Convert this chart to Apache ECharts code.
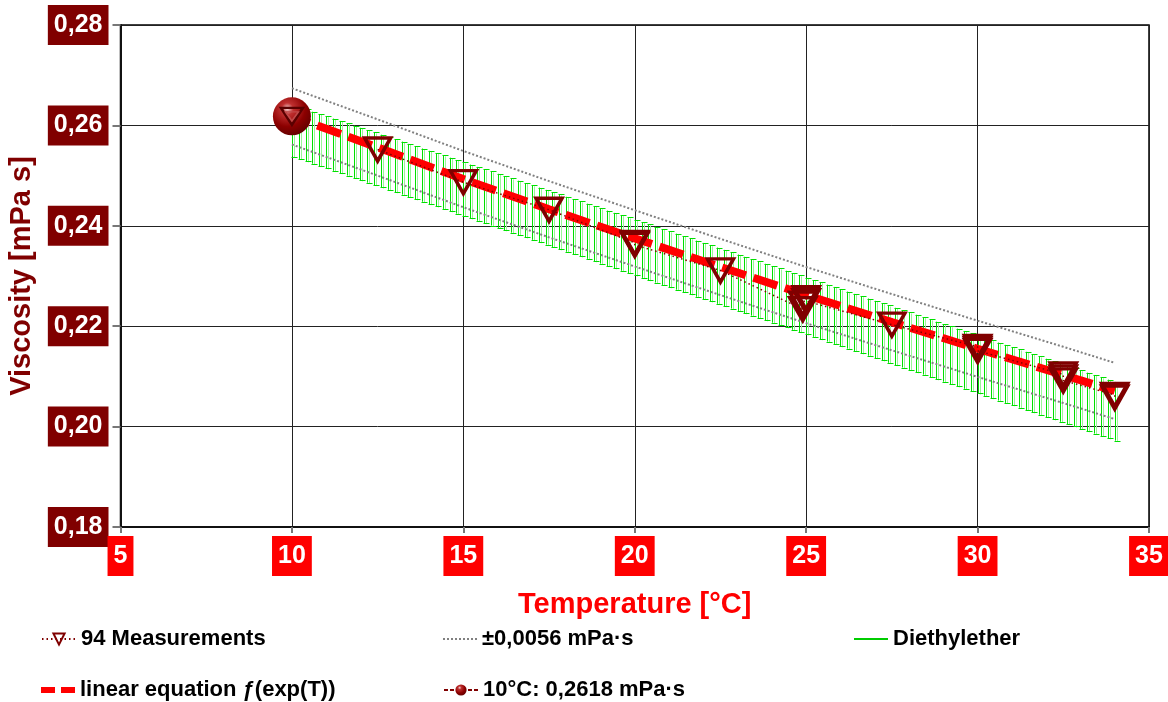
<!DOCTYPE html>
<html>
<head>
<meta charset="utf-8">
<script src="https://cdn.jsdelivr.net/npm/echarts@6/dist/echarts.min.js"></script>
<style>
  html, body { margin: 0; padding: 0; background: #ffffff; }
  #chart { width: 1168px; height: 702px; }
</style>
</head>
<body>
<div id="chart"></div>
<script>
// Axis ticks
const xTicks = [5, 10, 15, 20, 25, 30, 35];
const yTicks = [0.18, 0.20, 0.22, 0.24, 0.26, 0.28];

// Measured viscosities (°C, mPa·s); several runs share a temperature
const measT = [12.5, 15, 17.5, 20, 20, 20, 22.5, 24.9, 24.9, 25, 25, 27.5, 30, 30, 30, 32.5, 32.5, 32.5, 34, 34];
const measV = [0.2552, 0.2487, 0.2432, 0.2366, 0.2364, 0.2362, 0.2311, 0.2234, 0.2245, 0.2256, 0.2250, 0.2203, 0.2159, 0.2155, 0.2151, 0.2104, 0.2098, 0.2092, 0.2063, 0.2058];

// Fitted curve f(exp(T))
const fitT = [10, 12.5, 15, 17.5, 20, 22.5, 25, 27.5, 30, 32.5, 34];
const fitV = [0.2618, 0.2556, 0.2493, 0.2433, 0.2375, 0.2318, 0.2262, 0.2208, 0.2155, 0.2103, 0.2071];

// Tolerance around the fit
const tolerance = 0.0056;

// Reference point at 10 °C
const refT = 10;
const refV = 0.2618;

// Diethylether reference band (lower / upper limit)
const bandT = [10, 20, 34];
const bandLow = [0.2538, 0.2301, 0.1972];
const bandHigh = [0.2641, 0.2412, 0.2089];

const NAMES = {
  meas: '94 Measurements',
  tol: '±0,0056 mPa·s',
  ref: 'Diethylether',
  fit: 'linear equation ƒ(exp(T))',
  point: '10°C: 0,2618 mPa·s'
};

const DARK_RED = '#800000';
const BOLD_FONT = '"Liberation Sans", Arial, sans-serif';

const pairs = (xs, ys) => xs.map((x, i) => [x, ys[i]]);
const fmtComma = (v, digits) => v.toFixed(digits).replace('.', ',');

// Hatched band: vertical bars with small caps every HATCH_STEP °C
const HATCH_STEP = 0.2;
function renderBand(params, api) {
  const i = params.dataIndex;
  if (i >= bandT.length - 1) return null;
  const t0 = bandT[i], t1 = bandT[i + 1];
  const lo0 = api.coord([t0, bandLow[i]]), hi0 = api.coord([t0, bandHigh[i]]);
  const lo1 = api.coord([t1, bandLow[i + 1]]), hi1 = api.coord([t1, bandHigh[i + 1]]);
  const children = [];
  const kStart = Math.ceil((t0 - bandT[0]) / HATCH_STEP - 1e-6);
  const isLast = i === bandT.length - 2;
  for (let k = kStart; ; k++) {
    const t = bandT[0] + k * HATCH_STEP;
    if (t > t1 + 1e-6 || (!isLast && t >= t1 - 1e-6)) break;
    const x = api.coord([t, bandLow[i]])[0];
    const f = (x - lo0[0]) / (lo1[0] - lo0[0]);
    const yTop = hi0[1] + f * (hi1[1] - hi0[1]);
    const yBot = lo0[1] + f * (lo1[1] - lo0[1]);
    const xi = Math.round(x) + 0.5;
    children.push({
      type: 'line', shape: { x1: xi + 2, y1: yTop + 1, x2: xi + 2, y2: yBot + 1 },
      style: { stroke: '#9af59a', lineWidth: 1 }, silent: true
    });
    children.push({
      type: 'line', shape: { x1: xi, y1: yTop, x2: xi, y2: yBot },
      style: { stroke: '#00e000', lineWidth: 1 }, silent: true
    });
    children.push({
      type: 'line', shape: { x1: xi - 1, y1: Math.round(yTop) + 0.5, x2: xi + 5, y2: Math.round(yTop) + 0.5 },
      style: { stroke: '#00e000', lineWidth: 1 }, silent: true
    });
    children.push({
      type: 'line', shape: { x1: xi - 1, y1: Math.round(yBot) + 0.5, x2: xi + 5, y2: Math.round(yBot) + 0.5 },
      style: { stroke: '#00e000', lineWidth: 1 }, silent: true
    });
  }
  return { type: 'group', children };
}

const sphereColor = {
  type: 'radial', x: 0.38, y: 0.3, r: 0.78,
  colorStops: [
    { offset: 0, color: '#f6d6d6' },
    { offset: 0.2, color: '#c03030' },
    { offset: 0.6, color: '#8c0000' },
    { offset: 1, color: '#5a0000' }
  ]
};

const legendText = {
  fontFamily: BOLD_FONT, fontWeight: 'bold', fontSize: 22, color: '#000', lineHeight: 26
};
function legendAt(name, left, top, extra) {
  return Object.assign({
    data: [name], left, top, orient: 'horizontal',
    itemWidth: 34, itemHeight: 14, itemGap: 0,
    selectedMode: false, textStyle: legendText, padding: 0
  }, extra || {});
}

const tickLabelBox = (bg) => ({
  fontFamily: BOLD_FONT, fontWeight: 'bold', fontSize: 25, color: '#ffffff',
  backgroundColor: bg, padding: [7, 6, 7, 6], lineHeight: 26
});

const option = {
  animation: false,
  backgroundColor: '#ffffff',
  grid: {
    left: 120.5, right: 19, top: 25, bottom: 175,
    outerBoundsMode: 'none', containLabel: false,
    show: true, borderColor: '#000', borderWidth: 1.5, backgroundColor: 'transparent'
  },
  legend: [
    legendAt(NAMES.meas, 41, 626),
    legendAt(NAMES.tol, 443, 626, { data: [{ name: NAMES.tol, icon: 'path://M0,0h2v2h-2z M4,0h2v2h-2z M8,0h2v2h-2z M12,0h2v2h-2z M16,0h2v2h-2z M20,0h2v2h-2z M24,0h2v2h-2z M28,0h2v2h-2z M32,0h2v2h-2z' }] }),
    legendAt(NAMES.ref, 854, 626, { data: [{ name: NAMES.ref, icon: 'rect' }], itemHeight: 2 }),
    legendAt(NAMES.fit, 41, 677, { data: [{ name: NAMES.fit, icon: 'path://M0,0h14v6h-14z M20,0h14v6h-14z' }] }),
    legendAt(NAMES.point, 443, 677)
  ],
  xAxis: {
    type: 'value', min: xTicks[0], max: xTicks[xTicks.length - 1], interval: 5,
    name: 'Temperature [°C]', nameLocation: 'middle', nameGap: 63,
    nameTextStyle: { fontFamily: BOLD_FONT, fontWeight: 'bold', fontSize: 29, color: '#ff0000' },
    axisLine: { show: true, lineStyle: { color: '#111', width: 2 } },
    axisTick: { show: true, length: 6, lineStyle: { color: '#777', width: 2 } },
    axisLabel: Object.assign({ margin: 9, formatter: (v) => String(v) }, tickLabelBox('#ff0000')),
    splitLine: { show: true, lineStyle: { color: '#222', width: 1 } }
  },
  yAxis: {
    type: 'value', min: yTicks[0], max: yTicks[yTicks.length - 1], interval: 0.02,
    name: 'Viscosity [mPa s]', nameLocation: 'middle', nameGap: 66, nameRotate: 90,
    nameTextStyle: { fontFamily: BOLD_FONT, fontWeight: 'bold', fontSize: 29, color: DARK_RED },
    axisLine: { show: true, lineStyle: { color: '#111', width: 2 } },
    axisTick: { show: true, length: 8, lineStyle: { color: '#777', width: 2 } },
    axisLabel: Object.assign({ margin: 12, formatter: (v) => fmtComma(v, 2) }, tickLabelBox(DARK_RED)),
    splitLine: { show: true, lineStyle: { color: '#222', width: 1 } }
  },
  series: [
    {
      name: NAMES.ref, type: 'custom', z: 1,
      itemStyle: { color: '#00cc00' },
      data: pairs(bandT, bandLow).map((p, i) => [p[0], p[1], bandHigh[i]]),
      encode: { x: 0, y: [1, 2] },
      renderItem: renderBand, clip: true
    },
    {
      name: NAMES.tol, type: 'line', z: 2, showSymbol: false, symbol: 'none',
      data: pairs(fitT, fitV.map(v => v + tolerance)),
      lineStyle: { color: '#808080', width: 2, type: [2, 2] },
      itemStyle: { color: '#808080' }
    },
    {
      name: NAMES.tol, type: 'line', z: 2, showSymbol: false, symbol: 'none',
      data: pairs(fitT, fitV.map(v => v - tolerance)),
      lineStyle: { color: '#808080', width: 2, type: [2, 2] },
      itemStyle: { color: '#808080' }
    },
    {
      name: NAMES.fit, type: 'line', z: 3, showSymbol: false, symbol: 'none',
      data: pairs(fitT, fitV),
      lineStyle: { color: '#ff0000', width: 8, type: [25, 8], dashOffset: 6, cap: 'butt' },
      itemStyle: { color: '#ff0000' }
    },
    {
      name: NAMES.meas, type: 'line', z: 4,
      data: pairs(measT, measV),
      symbol: 'triangle', symbolRotate: 180, symbolSize: [26, 23], showAllSymbol: true,
      lineStyle: { color: DARK_RED, width: 1.5, type: [1.5, 3] },
      itemStyle: { color: 'rgba(255,255,255,0)', borderColor: DARK_RED, borderWidth: 3.5 }
    },
    {
      name: NAMES.point, type: 'line', z: 5,
      data: [[refT, refV]],
      symbol: 'circle', symbolSize: 38,
      lineStyle: { color: DARK_RED, width: 2, type: [4, 2] },
      itemStyle: { color: sphereColor },
      markPoint: {
        silent: true, z: 10,
        label: { show: false },
        data: [
          { coord: [refT, refV], symbol: 'triangle', symbolRotate: 180, symbolSize: [22, 17],
            itemStyle: { color: 'rgba(0,0,0,0)', borderColor: '#5a0000', borderWidth: 2.5 } },
          { coord: [refT, refV], symbol: 'triangle', symbolRotate: 180, symbolSize: [13, 9],
            itemStyle: { color: 'rgba(0,0,0,0)', borderColor: '#c04848', borderWidth: 1.5 } }
        ]
      }
    }
  ]
};

const chart = echarts.init(document.getElementById('chart'), null, { renderer: 'canvas' });
chart.setOption(option);
</script>
</body>
</html>
